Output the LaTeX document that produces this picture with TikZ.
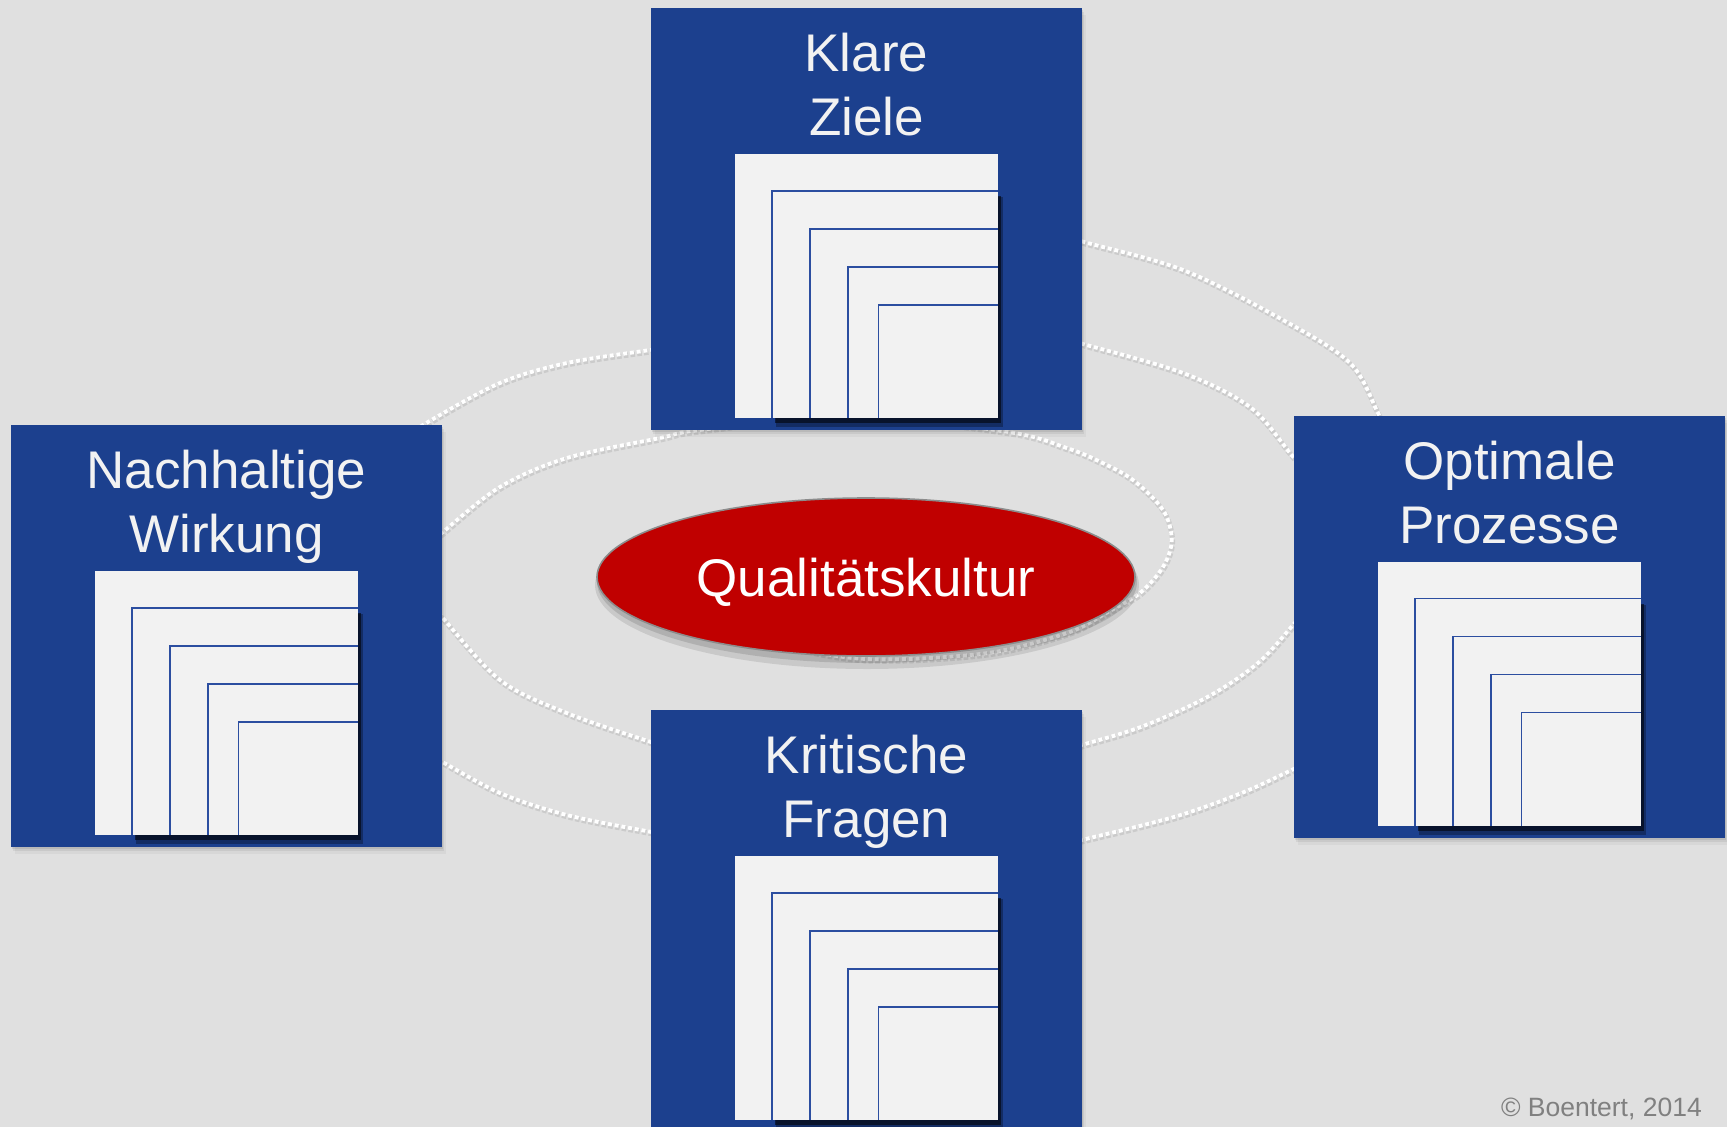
\documentclass[tikz,border=0pt]{standalone}
\usepackage{fontspec}
\setmainfont{Liberation Sans}
\usetikzlibrary{shapes.geometric}

\definecolor{bg}{RGB}{224,224,224}
\definecolor{pillarblue}{RGB}{28,64,142}
\definecolor{paper}{RGB}{242,242,242}
\definecolor{sheetblue}{RGB}{44,78,160}
\definecolor{cultred}{RGB}{192,0,0}
\definecolor{notegray}{RGB}{128,128,128}

\tikzset{
  pillarbox/.style={fill=pillarblue, minimum width=431pt, minimum height=422pt,
    inner sep=0pt, outer sep=0pt},
  pillartext/.style={text=paper, font=\fontsize{53}{64}\selectfont, align=center,
    inner sep=0pt, anchor=base},
  sheetedge/.style={draw=sheetblue, line width=1.1pt},
  ring/.style={draw=white, line width=3.8pt, dash pattern=on 3.9pt off 2.9pt},
  ringshade/.style={draw=black, opacity=0.09, line width=5.2pt,
    dash pattern=on 4.6pt off 2.2pt, dash phase=0.35pt,
    transform canvas={shift={(0.8,1.8)}}},
  coreellipse/.style={ellipse, minimum width=538pt, minimum height=158pt,
    inner sep=0pt, fill=cultred, draw=black!45, line width=1.6pt, text=white,
    text depth=0pt, font=\fontsize{53}{64}\selectfont},
}

% one dotted arc with its soft shadow
\newcommand\dotarc[1]{%
  \draw[ringshade] plot[smooth, tension=0.55] coordinates {#1};
  \draw[ring] plot[smooth, tension=0.55] coordinates {#1};}

% a blue pillar with its two-line title and a stack of sheets
% #1 name, #2 top-left corner, #3 first line, #4 second line
\newcommand\pillar[4]{%
  \begin{scope}[shift={(#2)}]
    \foreach \s/\o in {2/0.08,4/0.06,7/0.04}
      \fill[black, opacity=\o] ({\s*0.5},{\s}) rectangle ({431+\s*0.5},{422+\s});
    \node[pillarbox] (#1) at (215.5,211) {};
    % the base anchor sits on the second line's baseline
    \node[pillartext] (#1-title) at (215.5,127.5) {#3\\#4};
    % shadow under the stacked sheets
    \fill[black, opacity=0.3] (125,189) rectangle (352,419);
    \fill[black, opacity=0.55] (124,188) rectangle (350,415);
    \fill[paper] (84,146) rectangle (347,410);
    \foreach \dx/\dy in {37/37,75/75,113/113,143.5/151}{
      \fill[paper] ({84+\dx},{146+\dy}) rectangle (347,410);
      \draw[sheetedge] (347,{146+\dy}) -- ({84+\dx},{146+\dy}) -- ({84+\dx},410);
    }
  \end{scope}}

\begin{document}
\begin{tikzpicture}[x=1pt, y=-1pt]
  \useasboundingbox (0,0) rectangle (1727,1127);
  \clip (0,0) rectangle (1727,1127);
  \fill[bg] (0,0) rectangle (1727,1127);

  % dotted orbits behind the pillars
  \dotarc{(410,435) (428,422) (500,383) (567,363) (650,350) (670,347)}
  \dotarc{(1070,236) (1083,241.7) (1183,270) (1283,320) (1350,363) (1378,413) (1388,432)}
  \dotarc{(1068,340) (1083,344) (1183,373) (1250,407) (1290,453) (1305,472)}
  \dotarc{(425,598) (441.7,616.7) (500,680) (566.7,713) (650,741.7) (668,746)}
  \dotarc{(425,754) (441.7,761.7) (500,793) (566.7,815) (650,831.7) (668,834)}
  \dotarc{(1066,750) (1081.7,745) (1141.7,726.7) (1208,696.7) (1258,663) (1293,625) (1305,610)}
  \dotarc{(1066,844) (1081.7,840) (1175,816.7) (1241.7,793) (1291.7,770) (1308,761)}
  % inner orbit around the core
  \dotarc{(425,548) (441.7,533) (500,487) (567,458) (660,438) (700,430) (848,416)
          (1006.7,431.7) (1066.7,448) (1100,461.7) (1133,480) (1163,510) (1171.7,540)
          (1163,567) (1140,593) (1108,612) (1070,632) (1000,651) (930,658)
          (866,659) (820,653) (770,640)}

  % core ellipse with shadow
  \fill[black, opacity=0.10] (867,585) ellipse [x radius=272pt, y radius=84pt];
  \fill[black, opacity=0.12] (867,582) ellipse [x radius=270pt, y radius=81pt];
  \node[coreellipse] (core) at (866,577) {Qualitätskultur};

  % the four pillars
  \pillar{goals}{651,8}{Klare}{Ziele}
  \pillar{impact}{11,425}{Nachhaltige}{Wirkung}
  \pillar{process}{1294,415.5}{Optimale}{Prozesse}
  \pillar{questions}{651,710}{Kritische}{Fragen}

  \node[anchor=base east, inner sep=0pt, text=notegray,
        font=\fontsize{26.5}{30}\selectfont] (credit) at (1702,1116) {© Boentert, 2014};
\end{tikzpicture}
\end{document}
